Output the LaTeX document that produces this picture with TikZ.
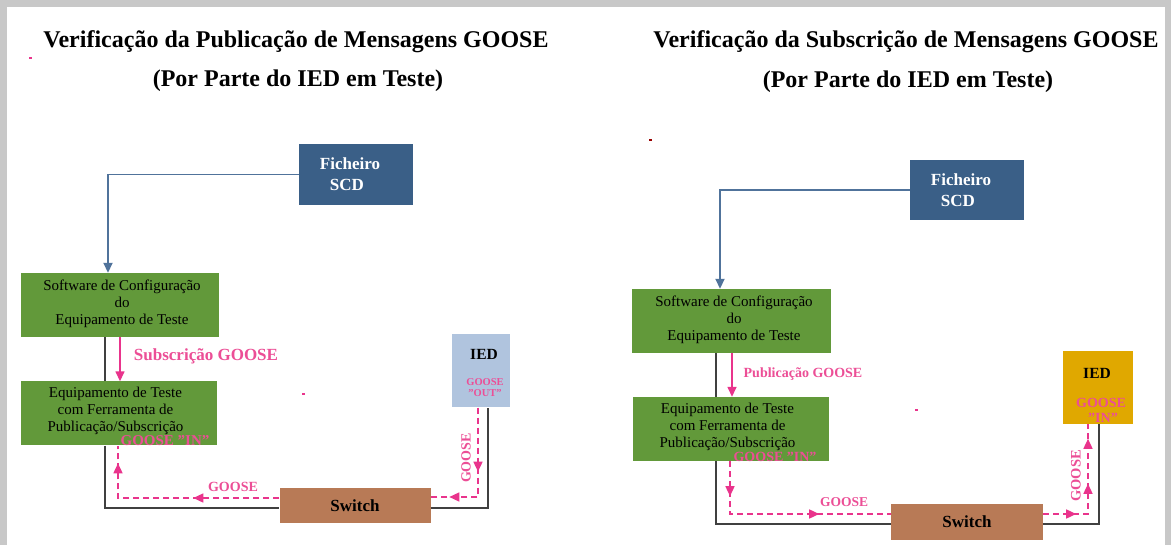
\documentclass[tikz,border=0pt]{standalone}
\usepackage{fontspec}
\setmainfont{Liberation Serif}
\usetikzlibrary{arrows.meta,decorations.markings,calc}
\definecolor{ficblue}{RGB}{58,95,135}
\definecolor{boxgreen}{RGB}{98,153,58}
\definecolor{swbrown}{RGB}{184,122,86}
\definecolor{iedblue}{RGB}{176,196,222}
\definecolor{iedgold}{RGB}{224,168,0}
\definecolor{linkblue}{RGB}{80,115,155}
\definecolor{gpink}{RGB}{233,52,140}
\definecolor{lpink}{RGB}{236,78,150}
\definecolor{bggray}{RGB}{200,200,200}
\tikzset{
  titletext/.style={font=\fontsize{24}{28}\selectfont\bfseries, inner sep=0pt},
  ficbox/.style={fill=ficblue, minimum width=114pt, minimum height=61pt, inner sep=0pt},
  fictext/.style={text=white, font=\fontsize{17}{21}\selectfont\bfseries, align=left, inner sep=0pt},
  greenbox/.style={fill=boxgreen, minimum width=198pt, minimum height=64pt, inner sep=0pt},
  greentext/.style={align=center, font=\fontsize{15}{17}\selectfont, inner sep=0pt},
  swbox/.style={fill=swbrown, minimum width=151pt, minimum height=35pt, inner sep=0pt,
    font=\fontsize{17}{20}\selectfont\bfseries},
  iedbox/.style={minimum width=#1, minimum height=73pt, inner sep=0pt},
  iedlbl/.style={font=\fontsize{15.5}{18}\selectfont\bfseries, inner sep=0pt},
  plabel/.style={text=lpink, font=\fontsize{#1}{#1}\selectfont\bfseries, inner sep=0pt},
  bluelink/.style={draw=linkblue, line width=1.8pt, -{Triangle[length=10pt,width=9pt]}},
  blacklink/.style={draw=black!75, line width=1.5pt},
  pinkarrow/.style={draw=gpink, line width=1.5pt, -{Triangle[length=10pt,width=9pt]}},
  pinkdash/.style={draw=gpink, line width=1.5pt, dash pattern=on 6pt off 4pt},
  gmark/.style={postaction={decorate, decoration={markings,
      mark=at position #1 with {\pgfsetdash{}{0pt}\arrow[gpink]{Triangle[length=10pt,width=9pt]}}}}},
  speck/.style={fill=gpink, minimum width=3pt, minimum height=1.5pt, inner sep=0pt}
}
\begin{document}
\begin{tikzpicture}[x=1pt,y=-1pt]
\useasboundingbox (0,0) rectangle (1171,545);
\fill[bggray] (0,0) rectangle (1171,545);
\fill[white] (7,7) rectangle (1165,545);

% ---------- Titles ----------
\node[titletext] (tL1) at (296,42) {Verificação da Publicação de Mensagens GOOSE};
\node[titletext] (tL2) at (298,81) {(Por Parte do IED em Teste)};
\node[titletext] (tR1) at (906,42) {Verificação da Subscrição de Mensagens GOOSE};
\node[titletext] (tR2) at (908,82) {(Por Parte do IED em Teste)};

% ---------- Left diagram ----------
\node[ficbox] (ficL) at (356,174.5) {};
\node[fictext] (ficLt) at ([xshift=-6pt]ficL.center) {Ficheiro\\\hspace*{10pt}SCD};
\node[greenbox] (swL) at (119.5,305) {};
\node[greentext] (swLt) at (122,304) {Software de Configuração\\do\\Equipamento de Teste};
\node[greenbox, minimum width=196pt] (eqL) at (119,413.5) {};
\node[greentext] (eqLt) at (115.5,411) {Equipamento de Teste\\com Ferramenta de\\Publicação/Subscrição};
\node[swbox] (switchL) at (355,505.5) {Switch};
\node[iedbox=58pt, fill=iedblue] (iedL) at (481,371) {};
\node[iedlbl] (iedLt) at (484,354) {IED};
\node[plabel=10.5, align=center] (iedLg) at (485,387.5) {GOOSE\\[1pt]"OUT"};

\draw[bluelink] (ficL.west) -| ([xshift=-11.5pt]swL.north);
\draw[blacklink] ([xshift=-14.5pt]swL.south) -- ([xshift=-14pt]eqL.north);
\draw[blacklink] ([xshift=-14pt]eqL.south) |- ([yshift=-2.5pt]switchL.west);
\draw[blacklink] ([yshift=-2.5pt]switchL.east) -| ([xshift=7pt]iedL.south);
\draw[pinkarrow] ([xshift=0.5pt]swL.south) -- ([xshift=1pt]eqL.north);
\node[plabel=17] (subL) at (206,356) {Subscrição GOOSE};
\node[plabel=15] (ginL) at (165,441) {GOOSE "IN"};
\draw[pinkdash, gmark=86pt, gmark=196pt] ([yshift=7.5pt]switchL.west) -| ([xshift=-1pt]eqL.south);
\node[plabel=14] (gL) at (233,487) {GOOSE};
\draw[pinkdash, gmark=64pt, gmark=118pt] ([xshift=-3pt]iedL.south) |- ([yshift=8.5pt]switchL.east);
\node[plabel=14, rotate=90] (gvL) at (466,458) {GOOSE};

% ---------- Right diagram ----------
\node[ficbox, minimum height=60pt] (ficR) at (967,190) {};
\node[fictext] (ficRt) at ([xshift=-6pt]ficR.center) {Ficheiro\\\hspace*{10pt}SCD};
\node[greenbox, minimum width=199pt] (swR) at (731.5,321) {};
\node[greentext] (swRt) at (734,320) {Software de Configuração\\do\\Equipamento de Teste};
\node[greenbox, minimum width=196pt] (eqR) at (731,429) {};
\node[greentext] (eqRt) at (727.5,427) {Equipamento de Teste\\com Ferramenta de\\Publicação/Subscrição};
\node[swbox, minimum width=152pt, minimum height=36pt] (switchR) at (967,522) {Switch};
\node[iedbox=70pt, fill=iedgold] (iedR) at (1098,387.5) {};
\node[iedlbl] (iedRt) at (1097,373) {IED};
\node[plabel=14, align=center] (iedRg) at (1101,410) {GOOSE\\[1pt]\hspace*{4pt}"IN"};

\draw[bluelink] (ficR.west) -| ([xshift=-11.5pt]swR.north);
\draw[blacklink] ([xshift=-15.5pt]swR.south) -- ([xshift=-15pt]eqR.north);
\draw[blacklink] ([xshift=-15pt]eqR.south) |- ([yshift=-2pt]switchR.west);
\draw[blacklink] ([yshift=-2pt]switchR.east) -| ([xshift=1pt]iedR.south);
\draw[pinkarrow] ([xshift=0.5pt]swR.south) -- ([xshift=1pt]eqR.north);
\node[plabel=14] (pubR) at (803,374) {Publicação GOOSE};
\node[plabel=14] (ginR) at (775,457) {GOOSE "IN"};
\draw[pinkdash, gmark=35pt, gmark=142pt] ([xshift=-1pt]eqR.south) |- ([yshift=8pt]switchR.west);
\node[plabel=13.5] (gR) at (844,502) {GOOSE};
\draw[pinkdash, gmark=33pt, gmark=75pt, gmark=120pt] ([yshift=8pt]switchR.east) -| ([xshift=-10pt]iedR.south);
\node[plabel=14.5, rotate=90] (gvR) at (1076,476) {GOOSE};

% ---------- stray marks ----------
\node[speck] (s1) at (30,58) {};
\node[speck] (s2) at (303,394) {};
\node[speck] (s3) at (916,410) {};
\node[speck, fill=red!60!black] (s4) at (650,140) {};
\end{tikzpicture}
\end{document}
